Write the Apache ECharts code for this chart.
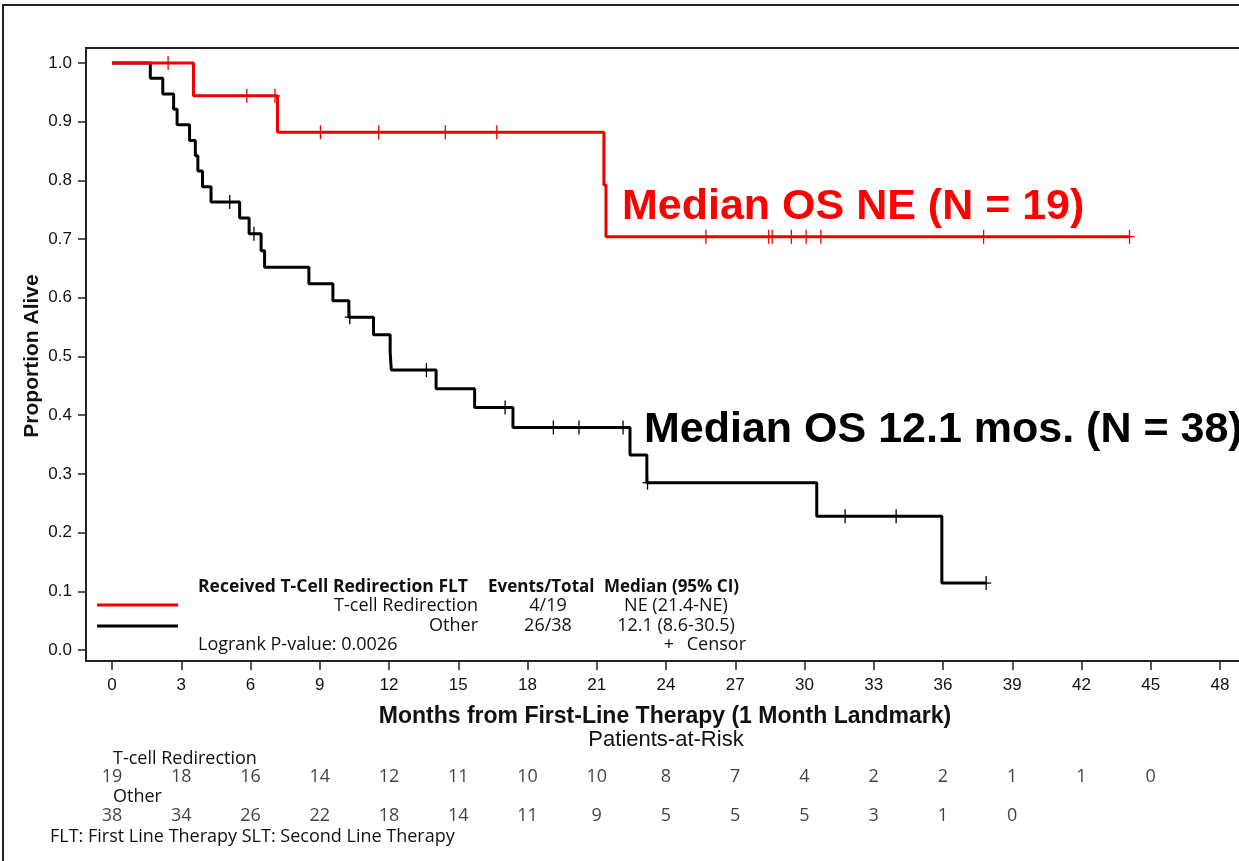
<!DOCTYPE html>
<html><head><meta charset="utf-8">
<script src="https://cdn.jsdelivr.net/npm/echarts@6/dist/echarts.min.js"></script>
<style>html,body{margin:0;padding:0;background:#fff}#c{width:1239px;height:861px}</style>
</head><body><div id="c"></div>
<script>
// ---------- data ----------
const xTicks = [0,3,6,9,12,15,18,21,24,27,30,33,36,39,42,45,48];
const yTicks = [0,0.1,0.2,0.3,0.4,0.5,0.6,0.7,0.8,0.9,1.0];
const tcellSteps = [[0,1],[3.53,0.944],[7.17,0.882],[21.31,0.792],[21.4,0.704],[44.08,0.704]];
const tcellCensor = [2.43,5.84,7.06,9.03,11.55,14.44,16.67,25.73,28.45,28.6,29.43,30.07,30.71,37.76,44.08];
const otherSteps = [[0,1],[1.66,0.974],[2.2,0.947],[2.67,0.921],[2.82,0.895],[3.36,0.868],[3.61,0.842],[3.72,0.816],[3.92,0.789],[4.29,0.763],[5.53,0.736],[5.94,0.709],[6.46,0.680],[6.61,0.652],[8.53,0.624],[9.57,0.595],[10.26,0.567],[11.33,0.537],[12.05,0.507],[12.1,0.477],[14.04,0.445],[15.71,0.413],[17.37,0.379],[22.44,0.332],[23.17,0.285],[30.53,0.228],[35.95,0.114],[37.87,0.114]];
const otherCensor = [5.1,6.15,10.3,13.62,17.03,19.12,20.23,22.14,23.2,31.76,33.97,37.87];
const riskTimes = [0,3,6,9,12,15,18,21,24,27,30,33,36,39,42,45];
const tcellRisk = [19,18,16,14,12,11,10,10,8,7,4,2,2,1,1,0];
const otherRisk = [38,34,26,22,18,14,11,9,5,5,5,3,1,0];
const groupNames = ['T-cell Redirection','Other'];
const eventsTotal = ['4/19','26/38'];
const medianCI = ['NE (21.4-NE)','12.1 (8.6-30.5)'];
const pValueText = 'Logrank P-value: 0.0026';

// ---------- helpers ----------
function survAt(steps, t){ let s = steps[0][1]; for (const p of steps){ if (p[0] <= t) s = p[1]; } return s; }
const RED = '#ee0000', BLACK = '#000000';
const SANS = '"Liberation Sans", Arial, sans-serif';
const HUM = '"Open Sans", "Noto Sans", sans-serif';

// layout: grid from x=86 (left frame) wide 1170; month 0 at px 112, 48 at px 1220
const gLeft = 86, gWidth = 1170, gTop = 48, gHeight = 613;
const ppm = (1220 - 112) / 48;
const xMin = -(112 - gLeft) / ppm, xMax = xMin + gWidth / ppm;
const ppy = (650 - 63);
const yMax = 1 + (63 - gTop) / ppy, yMin = -(gTop + gHeight - 650) / ppy;

function censorSeries(times, steps, color){
  return {
    type:'custom', xAxisIndex:0, yAxisIndex:0, z:5,
    data: times.map(t => [t, survAt(steps, t)]),
    renderItem(params, api){
      const p = api.coord([api.value(0), api.value(1)]);
      return {type:'group', children:[
        {type:'line', shape:{x1:p[0], y1:p[1]-7, x2:p[0], y2:p[1]+7}, style:{stroke:color, lineWidth:1.3}},
        {type:'line', shape:{x1:p[0]-5, y1:p[1], x2:p[0]+5, y2:p[1]}, style:{stroke:color, lineWidth:1.3}}
      ]};
    }
  };
}
function riskSeries(times, vals, row){
  return {
    type:'scatter', xAxisIndex:1, yAxisIndex:1, symbolSize:1, clip:false,
    itemStyle:{color:'rgba(0,0,0,0)'},
    data: vals.map((v,i) => [times[i], row, v]),
    label:{show:true, position:'inside', formatter:p => p.data[2], color:'#111', fontSize:18, fontFamily:HUM},
    silent:true
  };
}
function txt(text, x, y, opts){
  return Object.assign({type:'text', x, y, silent:true, style:Object.assign({text, fill:'#111', font:'18px '+HUM, align:'left', verticalAlign:'middle'}, opts||{})});
}

const chart = echarts.init(document.getElementById('c'), null, {renderer:'canvas'});
chart.setOption({
  animation:false,
  backgroundColor:'#fff',
  grid:[
    {left:gLeft, top:gTop, width:gWidth, height:gHeight, show:true, borderColor:'#222', borderWidth:2, backgroundColor:'transparent', outerBoundsMode:'none', containLabel:false},
    {left:gLeft, top:777, width:gWidth, height:39, show:false, outerBoundsMode:'none', containLabel:false}
  ],
  xAxis:[
    {type:'value', gridIndex:0, min:xMin, max:xMax, splitLine:{show:false},
     axisLine:{show:false, onZero:false},
     axisTick:{show:true, customValues:xTicks, length:9, lineStyle:{color:'#222', width:1.5}},
     axisLabel:{customValues:xTicks, fontSize:17, color:'#111', fontFamily:SANS, margin:16}},
    {type:'value', gridIndex:1, min:xMin, max:xMax, show:false, axisLine:{onZero:false}}
  ],
  yAxis:[
    {type:'value', gridIndex:0, min:yMin, max:yMax, splitLine:{show:false},
     axisLine:{show:false, onZero:false},
     axisTick:{show:true, customValues:yTicks, length:8, lineStyle:{color:'#222', width:1.5}},
     axisLabel:{customValues:yTicks, formatter:v => v.toFixed(1), fontSize:17, color:'#111', fontFamily:SANS, margin:14}},
    {type:'value', gridIndex:1, min:0, max:1, show:false, axisLine:{onZero:false}}
  ],
  series:[
    {type:'line', step:'end', data:otherSteps, showSymbol:false, lineStyle:{color:BLACK, width:3}, z:3},
    {type:'line', step:'end', data:tcellSteps, showSymbol:false, lineStyle:{color:RED, width:3}, z:4},
    censorSeries(otherCensor, otherSteps, BLACK),
    censorSeries(tcellCensor, tcellSteps, RED),
    riskSeries(riskTimes, tcellRisk, 1),
    riskSeries(riskTimes, otherRisk, 0)
  ],
  graphic:[
    {type:'rect', shape:{x:3, y:5, width:1260, height:880}, style:{fill:'none', stroke:'#222', lineWidth:2}, silent:true},
    {type:'line', shape:{x1:97, y1:605, x2:178, y2:605}, style:{stroke:RED, lineWidth:3}},
    {type:'line', shape:{x1:97, y1:626, x2:178, y2:626}, style:{stroke:BLACK, lineWidth:3}},
    txt('Received T-Cell Redirection FLT', 198, 587, {font:'bold 17.5px '+HUM}),
    txt('Events/Total', 488, 587, {font:'bold 17px '+HUM}),
    txt('Median (95% CI)', 604, 587, {font:'bold 17px '+HUM}),
    txt(groupNames[0], 478, 606, {align:'right'}),
    txt(eventsTotal[0], 548, 606, {align:'center'}),
    txt(medianCI[0], 676, 606, {align:'center'}),
    txt(groupNames[1], 478, 626, {align:'right'}),
    txt(eventsTotal[1], 548, 626, {align:'center'}),
    txt(medianCI[1], 676, 626, {align:'center'}),
    txt(pValueText, 198, 645),
    txt('+', 669, 645, {align:'center'}),
    txt('Censor', 746, 645, {align:'right'}),
    txt('Median OS NE (N = 19)', 622, 207, {font:'bold 43px '+SANS, fill:'#ff0000'}),
    txt('Median OS 12.1 mos. (N = 38)', 644, 430, {font:'bold 43px '+SANS, fill:'#000'}),
    txt('Months from First-Line Therapy (1 Month Landmark)', 665, 717, {font:'bold 23px '+SANS, align:'center'}),
    txt('Patients-at-Risk', 666, 740, {font:'22px '+SANS, align:'center'}),
    Object.assign(txt('Proportion Alive', 32, 356, {font:'bold 21px '+SANS, align:'center'}), {rotation:Math.PI/2}),
    txt(groupNames[0], 113, 759),
    txt(groupNames[1], 113, 797),
    txt('FLT: First Line Therapy SLT: Second Line Therapy', 50, 837)
  ]
});
</script></body></html>
